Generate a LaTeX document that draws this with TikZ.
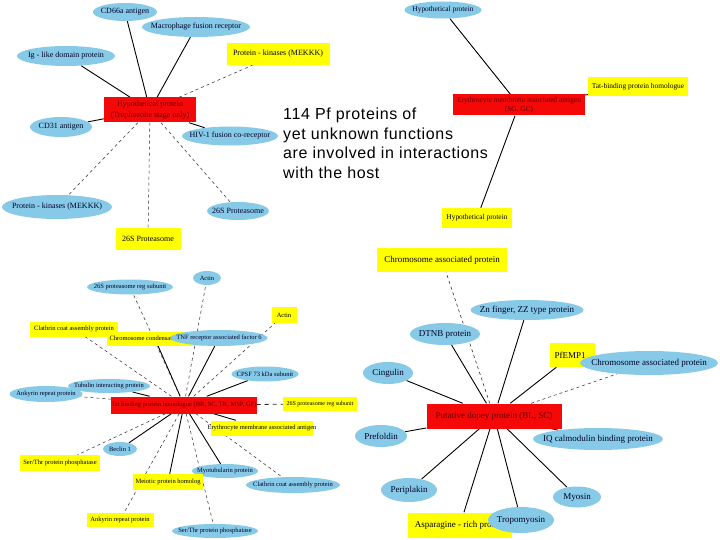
\documentclass[tikz,border=0pt]{standalone}
\usepackage{fontspec}
\setmainfont{Liberation Serif}
\newfontfamily\bigsans[LetterSpace=4]{Liberation Sans}
\usetikzlibrary{shapes.geometric}
\pgfdeclarelayer{bg}
\pgfsetlayers{bg,main}
\definecolor{skyb}{RGB}{135,202,232}
\definecolor{yel}{RGB}{255,255,0}
\definecolor{redc}{RGB}{245,8,8}
\newcommand{\zt}[1]{\makebox[0pt]{#1}}
\newcommand{\fA}{\fontsize{8}{11}\selectfont}
\newcommand{\fB}{\fontsize{7.4}{9.5}\selectfont}
\newcommand{\fC}{\fontsize{6.5}{8}\selectfont}
\newcommand{\fD}{\fontsize{9}{11}\selectfont}
\tikzset{
  ell/.style={ellipse, fill=skyb, inner sep=0pt, text=black!85!blue},
  ybox/.style={rectangle, fill=yel, inner sep=0pt, text=black},
  rbox/.style={rectangle, fill=redc, inner sep=0pt, text=black!60!red, align=center},
  sol/.style={draw=black, line width=0.9pt},
  dsh/.style={draw=black!85, line width=0.5pt, dash pattern=on 3pt off 3pt},
}
\begin{document}
\begin{tikzpicture}[x=1pt,y=-1pt]
\useasboundingbox (0,0) rectangle (720,540);

% ---------- top-left cluster ----------
\begin{scope}[every node/.append style={font=\fA}]
\node[rbox, minimum width=92pt, minimum height=25pt] (hyp1) at (150,110) {Hypothetical protein\\(Trophozoite stage only)};
\node[ell, minimum width=64pt, minimum height=18pt] (cd66) at (125,12) {\zt{CD66a antigen}};
\node[ell, minimum width=108pt, minimum height=20pt] (mac) at (196,27) {\zt{Macrophage fusion receptor}};
\node[ell, minimum width=98pt, minimum height=20pt] (ig) at (66,56) {\zt{Ig - like domain protein}};
\node[ybox, minimum width=103pt, minimum height=22pt] (pk1) at (278,54) {\zt{Protein - kinases (MEKKK)}};
\node[ell, minimum width=62pt, minimum height=20pt] (cd31) at (61,127) {\zt{CD31 antigen}};
\node[ell, minimum width=96pt, minimum height=19pt] (hiv) at (230,136) {\zt{HIV-1 fusion co-receptor}};
\node[ell, minimum width=110pt, minimum height=24pt] (pk2) at (57,207) {\zt{Protein - kinases (MEKKK)}};
\node[ell, minimum width=62pt, minimum height=18pt] (p26a) at (238,211) {\zt{26S Proteasome}};
\node[ybox, minimum width=65pt, minimum height=22pt] (p26b) at (148,239) {\zt{26S Proteasome}};
\end{scope}

% ---------- top-right cluster ----------
\begin{scope}[every node/.append style={font=\fB}]
\node[rbox, minimum width=132pt, minimum height=21pt] (ery1) at (519,105) {Erythrocyte membrane associated antigen\\(SG, GC)};
\node[ell, minimum width=77pt, minimum height=17pt] (hyp2) at (443,10) {\zt{Hypothetical protein}};
\node[ybox, minimum width=100pt, minimum height=19pt] (tat1) at (638,87) {\zt{Tat-binding protein homologue}};
\node[ybox, minimum width=70pt, minimum height=20pt] (hyp3) at (477,218) {\zt{Hypothetical protein}};
\end{scope}

% ---------- big text ----------
\node[anchor=north west, align=left, inner sep=0pt, font=\bigsans\fontsize{16}{19.5}\selectfont] (title) at (283,108)
 {114 Pf proteins of\\yet unknown functions\\are involved in interactions\\with the host};

% ---------- bottom-left cluster ----------
\begin{scope}[every node/.append style={font=\fC}]
\node[rbox, minimum width=142pt, minimum height=17pt] (tat2) at (184,405) {Tat binding protein homologue (BR, SC, TR, MSP, GF)};
\node[ell, minimum width=86pt, minimum height=15pt] (p26e) at (130,287) {\zt{26S proteasome reg subunit}};
\node[ell, minimum width=28pt, minimum height=14pt] (actE) at (207,278) {\zt{Actin}};
\node[ybox, minimum width=25pt, minimum height=16pt] (actY) at (284,315) {\zt{Actin}};
\node[ybox, minimum width=88pt, minimum height=15pt] (clathY) at (74,329) {\zt{Clathrin coat assembly protein}};
\node[ybox, minimum width=97pt, minimum height=14pt] (chromc) at (155,339) {\zt{Chromosome condensation protein}};
\node[ell, minimum width=97pt, minimum height=16pt] (tnf) at (219,338) {\zt{TNF receptor associated factor 6}};
\node[ell, minimum width=67pt, minimum height=15pt] (cpsf) at (265,374) {\zt{CPSF 73 kDa subunit}};
\node[ell, minimum width=73pt, minimum height=16pt] (ankE) at (46,394) {\zt{Ankyrin repeat protein}};
\node[ell, minimum width=82pt, minimum height=14pt] (tub) at (109,386) {\zt{Tubulin interacting protein}};
\node[ybox, minimum width=74pt, minimum height=14pt, font=\fontsize{6}{7}\selectfont] (p26y) at (320,404) {\zt{26S proteasome reg subunit}};
\node[ybox, minimum width=102pt, minimum height=15pt] (eryY) at (262,428) {\zt{Erythrocyte membrane associated antigen}};
\node[ell, minimum width=34pt, minimum height=14pt] (beclin) at (120,449) {\zt{Beclin 1}};
\node[ybox, minimum width=80pt, minimum height=16pt] (serY) at (60,463) {\zt{Ser/Thr protein phosphatase}};
\node[ell, minimum width=66pt, minimum height=14pt] (myot) at (225,471) {\zt{Myotubularin protein}};
\node[ybox, minimum width=70pt, minimum height=16pt] (meio) at (168,482) {\zt{Meiotic protein homolog}};
\node[ell, minimum width=94pt, minimum height=16pt] (clathE) at (293,485) {\zt{Clathrin coat assembly protein}};
\node[ybox, minimum width=67pt, minimum height=14pt] (ankY) at (120,520) {\zt{Ankyrin repeat protein}};
\node[ell, minimum width=86pt, minimum height=14pt] (serE) at (215,531) {\zt{Ser/Thr protein phosphatase}};
\end{scope}

% ---------- bottom-right cluster ----------
\begin{scope}[every node/.append style={font=\fD}]
\node[rbox, minimum width=135pt, minimum height=25pt] (dop) at (494,416) {Putative dopey protein (BL, SC)};
\node[ybox, minimum width=130pt, minimum height=24pt] (chromY) at (442,260) {\zt{Chromosome associated protein}};
\node[ell, minimum width=113pt, minimum height=20pt] (zn) at (527,310) {\zt{Zn finger, ZZ type protein}};
\node[ell, minimum width=70pt, minimum height=22pt] (dtnb) at (445,334) {\zt{DTNB protein}};
\node[ybox, minimum width=45pt, minimum height=24pt] (pfemp) at (572,355) {\zt{PfEMP1\hspace*{4pt}}};
\node[ell, minimum width=138pt, minimum height=24pt] (chromE) at (649,363) {\zt{Chromosome associated protein}};
\node[ell, minimum width=50pt, minimum height=22pt] (cing) at (388,373) {\zt{Cingulin}};
\node[ell, minimum width=52pt, minimum height=22pt] (pref) at (381,436) {\zt{Prefoldin}};
\node[ell, minimum width=130pt, minimum height=22pt] (iq) at (598,439) {\zt{IQ calmodulin binding protein}};
\node[ell, minimum width=56pt, minimum height=24pt] (peri) at (409,490) {\zt{Periplakin}};
\node[ell, minimum width=48pt, minimum height=21pt] (myos) at (577,497) {\zt{Myosin}};
\node[ybox, minimum width=104pt, minimum height=25pt] (asp) at (460,525) {\zt{Asparagine - rich protein}};
\node[ell, minimum width=66pt, minimum height=26pt] (trop) at (521,520) {\zt{Tropomyosin}};
\end{scope}

% ---------- connectors ----------
\begin{pgfonlayer}{bg}
\draw[sol] (hyp1) -- (cd66);
\draw[sol] (hyp1) -- (mac);
\draw[sol] (hyp1) -- (ig);
\draw[sol] (hyp1) -- (cd31);
\draw[sol] (hyp1) -- (hiv);
\draw[dsh] (hyp1) -- (pk1);
\draw[dsh] (hyp1) -- (pk2);
\draw[dsh] (hyp1) -- (p26a);
\draw[dsh] (hyp1) -- (p26b);

\draw[sol] (ery1) -- (hyp2);
\draw[sol] (ery1) -- (tat1);
\draw[sol] (ery1) -- (hyp3);

\draw[sol] (tat2) -- (chromc);
\draw[sol] (tat2) -- (tnf);
\draw[sol] (tat2) -- (cpsf);
\draw[sol] (tat2) -- (tub);
\draw[sol] (tat2) -- (beclin);
\draw[sol] (tat2) -- (meio);
\draw[sol] (tat2) -- (myot);
\draw[sol] (tat2) -- (eryY);
\draw[dsh] (tat2) -- (p26e);
\draw[dsh] (tat2) -- (actE);
\draw[dsh] (tat2) -- (actY);
\draw[dsh] (tat2) -- (clathY);
\draw[dsh] (tat2) -- (ankE);
\draw[dsh, line width=0.8pt, dash pattern=on 4pt off 4pt] (tat2) -- (p26y);
\draw[dsh] (tat2) -- (serY);
\draw[dsh] (tat2) -- (ankY);
\draw[dsh] (tat2) -- (serE);
\draw[dsh] (tat2) -- (clathE);

\draw[sol] (dop) -- (zn);
\draw[sol] (dop) -- (dtnb);
\draw[sol] (dop) -- (pfemp);
\draw[sol] (dop) -- (cing);
\draw[sol] (dop) -- (pref);
\draw[sol] (dop) -- (iq);
\draw[sol] (dop) -- (peri);
\draw[sol] (dop) -- (myos);
\draw[sol] (dop) -- (asp);
\draw[sol] (dop) -- (trop);
\draw[dsh] (dop) -- (chromY);
\draw[dsh] (dop) -- (chromE);
\end{pgfonlayer}
\end{tikzpicture}
\end{document}
